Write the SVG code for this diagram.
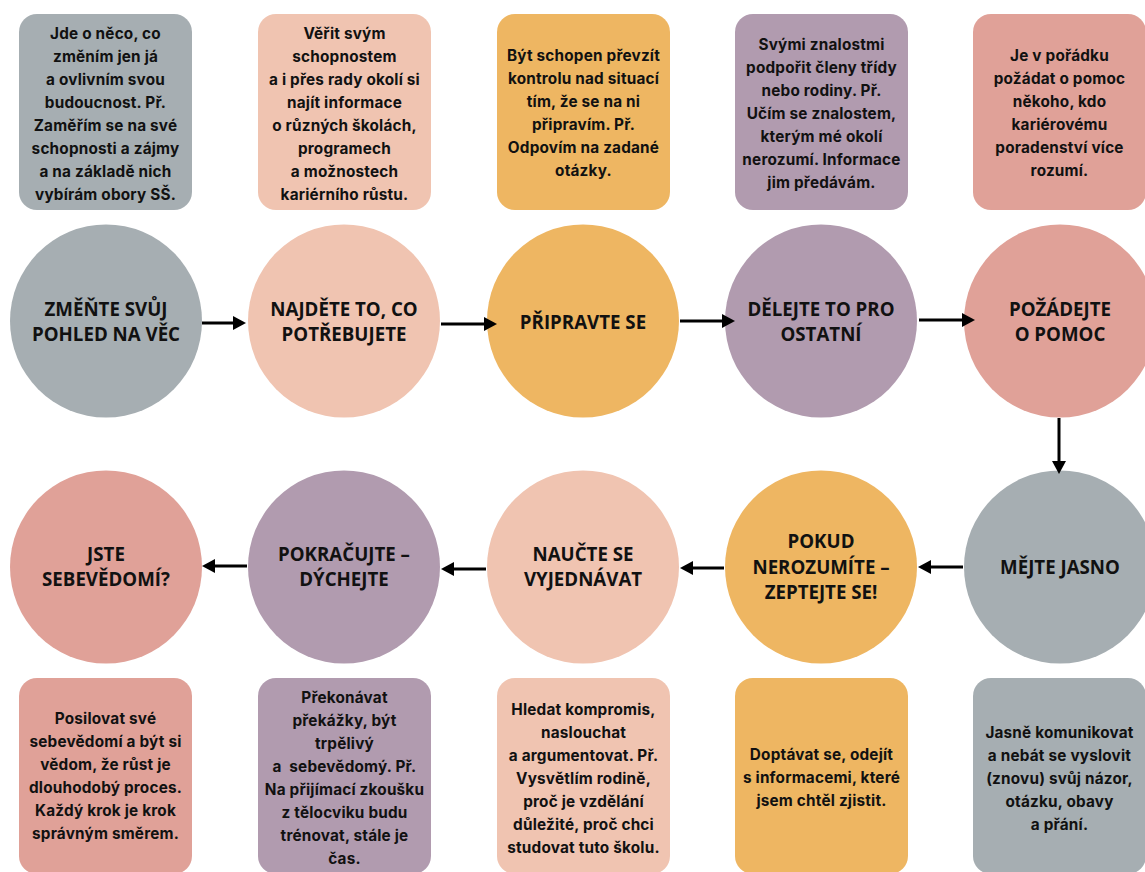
<svg xmlns="http://www.w3.org/2000/svg" width="1145" height="872" viewBox="0 0 1145 872">
<defs>
<style>
.gray{fill:#A6AEB2}.peach{fill:#F0C4B1}.yellow{fill:#EEB662}.mauve{fill:#B19BAF}.rose{fill:#E0A198}
.bt{font-family:Inter,"Noto Sans","DejaVu Sans",sans-serif;font-weight:700;font-size:15.3px;letter-spacing:0.2px;fill:#111;text-anchor:middle;white-space:pre}
.ct{font-family:"Open Sans","Noto Sans",sans-serif;font-weight:700;font-size:18.7px;fill:#111;text-anchor:middle}
.ln{stroke:#000;stroke-width:3;fill:none;marker-end:url(#ah)}
</style>
<marker id="ah" markerUnits="userSpaceOnUse" markerWidth="13" markerHeight="14" viewBox="0 0 13 14" refX="3" refY="7" orient="auto">
<path d="M0,0 L13,7 L0,14 Z" fill="#000"/>
</marker>
</defs>
<rect width="1145" height="872" fill="#fff"/>

<g id="box1"><rect class="gray" x="19" y="14" width="173" height="196" rx="18"/>
<text class="bt"><tspan x="105.5" y="38.5">Jde o něco, co</tspan><tspan x="105.5" y="61.5">změním jen já</tspan><tspan x="105.5" y="84.5">a ovlivním svou</tspan><tspan x="105.5" y="107.5">budoucnost. Př.</tspan><tspan x="105.5" y="130.5">Zaměřím se na své</tspan><tspan x="105.5" y="153.5">schopnosti a zájmy</tspan><tspan x="105.5" y="176.5">a na základě nich</tspan><tspan x="105.5" y="199.5">vybírám obory SŠ.</tspan></text></g>

<g id="box2"><rect class="peach" x="258" y="14" width="173" height="196" rx="18"/>
<text class="bt"><tspan x="344.5" y="38.5">Věřit svým</tspan><tspan x="344.5" y="61.5">schopnostem</tspan><tspan x="344.5" y="84.5">a i přes rady okolí si</tspan><tspan x="344.5" y="107.5">najít informace</tspan><tspan x="344.5" y="130.5">o různých školách,</tspan><tspan x="344.5" y="153.5">programech</tspan><tspan x="344.5" y="176.5">a možnostech</tspan><tspan x="344.5" y="199.5">kariérního růstu.</tspan></text></g>

<g id="box3"><rect class="yellow" x="497" y="14" width="173" height="196" rx="18"/>
<text class="bt"><tspan x="583.5" y="60.5">Být schopen převzít</tspan><tspan x="583.5" y="83.5">kontrolu nad situací</tspan><tspan x="583.5" y="106.5">tím, že se na ni</tspan><tspan x="583.5" y="129.5">připravím. Př.</tspan><tspan x="583.5" y="152.5">Odpovím na zadané</tspan><tspan x="583.5" y="175.5">otázky.</tspan></text></g>

<g id="box4"><rect class="mauve" x="735" y="14" width="173" height="196" rx="18"/>
<text class="bt"><tspan x="821.5" y="49.5">Svými znalostmi</tspan><tspan x="821.5" y="72.5">podpořit členy třídy</tspan><tspan x="821.5" y="95.5">nebo rodiny. Př.</tspan><tspan x="821.5" y="118.5">Učím se znalostem,</tspan><tspan x="821.5" y="141.5">kterým mé okolí</tspan><tspan x="821.5" y="164.5">nerozumí. Informace</tspan><tspan x="821.5" y="187.5">jim předávám.</tspan></text></g>

<g id="box5"><rect class="rose" x="973" y="14" width="173" height="196" rx="18"/>
<text class="bt"><tspan x="1059.5" y="60.5">Je v pořádku</tspan><tspan x="1059.5" y="83.5">požádat o pomoc</tspan><tspan x="1059.5" y="106.5">někoho, kdo</tspan><tspan x="1059.5" y="129.5">kariérovému</tspan><tspan x="1059.5" y="152.5">poradenství více</tspan><tspan x="1059.5" y="175.5">rozumí.</tspan></text></g>

<g id="c1"><ellipse class="gray" cx="106" cy="321" rx="96" ry="96.5"/>
<text class="ct"><tspan x="106" y="315.5">ZMĚŇTE SVŮJ</tspan><tspan x="106" y="340.5">POHLED NA VĚC</tspan></text></g>
<g id="c2"><ellipse class="peach" cx="344" cy="321" rx="96" ry="96.5"/>
<text class="ct"><tspan x="344" y="315.5">NAJDĚTE TO, CO</tspan><tspan x="344" y="341">POTŘEBUJETE</tspan></text></g>
<g id="c3"><ellipse class="yellow" cx="583" cy="321" rx="96" ry="96.5"/>
<text class="ct"><tspan x="583" y="328.5">PŘIPRAVTE SE</tspan></text></g>
<g id="c4"><ellipse class="mauve" cx="821" cy="321" rx="96" ry="96.5"/>
<text class="ct"><tspan x="821" y="315.5">DĚLEJTE TO PRO</tspan><tspan x="821" y="340.5">OSTATNÍ</tspan></text></g>
<g id="c5"><ellipse class="rose" cx="1060" cy="321" rx="96" ry="96.5"/>
<text class="ct"><tspan x="1060" y="315.5">POŽÁDEJTE</tspan><tspan x="1060" y="340.5">O POMOC</tspan></text></g>

<g id="c6"><ellipse class="rose" cx="106" cy="567" rx="96" ry="96.5"/>
<text class="ct"><tspan x="106" y="560.5">JSTE</tspan><tspan x="106" y="586">SEBEVĚDOMÍ?</tspan></text></g>
<g id="c7"><ellipse class="mauve" cx="344" cy="567" rx="96" ry="96.5"/>
<text class="ct"><tspan x="344" y="560.5">POKRAČUJTE –</tspan><tspan x="344" y="586">DÝCHEJTE</tspan></text></g>
<g id="c8"><ellipse class="peach" cx="583" cy="567" rx="96" ry="96.5"/>
<text class="ct"><tspan x="583" y="560.5">NAUČTE SE</tspan><tspan x="583" y="586">VYJEDNÁVAT</tspan></text></g>
<g id="c9"><ellipse class="yellow" cx="821" cy="567" rx="96" ry="96.5"/>
<text class="ct"><tspan x="821" y="547.5">POKUD</tspan><tspan x="821" y="573.5">NEROZUMÍTE –</tspan><tspan x="821" y="598.5">ZEPTEJTE SE!</tspan></text></g>
<g id="c10"><ellipse class="gray" cx="1060" cy="567" rx="96" ry="96.5"/>
<text class="ct"><tspan x="1060" y="573.5">MĚJTE JASNO</tspan></text></g>

<g id="box6"><rect class="rose" x="19" y="678" width="173" height="196" rx="18"/>
<text class="bt"><tspan x="105.5" y="723.5">Posilovat své</tspan><tspan x="105.5" y="746.5">sebevědomí a být si</tspan><tspan x="105.5" y="769.5">vědom, že růst je</tspan><tspan x="105.5" y="792.5">dlouhodobý proces.</tspan><tspan x="105.5" y="815.5">Každý krok je krok</tspan><tspan x="105.5" y="838.5">správným směrem.</tspan></text></g>

<g id="box7"><rect class="mauve" x="258" y="678" width="173" height="196" rx="18"/>
<text class="bt"><tspan x="344.5" y="702.5">Překonávat</tspan><tspan x="344.5" y="725.5">překážky, být</tspan><tspan x="344.5" y="748.5">trpělivý</tspan><tspan x="344.5" y="771.5">a  sebevědomý. Př.</tspan><tspan x="344.5" y="794.5">Na přijímací zkoušku</tspan><tspan x="344.5" y="817.5">z tělocviku budu</tspan><tspan x="344.5" y="840.5">trénovat, stále je</tspan><tspan x="344.5" y="863.5">čas.</tspan></text></g>

<g id="box8"><rect class="peach" x="497" y="678" width="173" height="196" rx="18"/>
<text class="bt"><tspan x="583.5" y="714.5">Hledat kompromis,</tspan><tspan x="583.5" y="737.5">naslouchat</tspan><tspan x="583.5" y="760.5">a argumentovat. Př.</tspan><tspan x="583.5" y="783.5">Vysvětlím rodině,</tspan><tspan x="583.5" y="806.5">proč je vzdělání</tspan><tspan x="583.5" y="829.5">důležité, proč chci</tspan><tspan x="583.5" y="852.5">studovat tuto školu.</tspan></text></g>

<g id="box9"><rect class="yellow" x="735" y="678" width="173" height="196" rx="18"/>
<text class="bt"><tspan x="821.5" y="759.5">Doptávat se, odejít</tspan><tspan x="821.5" y="782.5">s informacemi, které</tspan><tspan x="821.5" y="805.5">jsem chtěl zjistit.</tspan></text></g>

<g id="box10"><rect class="gray" x="973" y="678" width="173" height="196" rx="18"/>
<text class="bt"><tspan x="1059.5" y="737.5">Jasně komunikovat</tspan><tspan x="1059.5" y="760.5">a nebát se vyslovit</tspan><tspan x="1059.5" y="783.5">(znovu) svůj názor,</tspan><tspan x="1059.5" y="806.5">otázku, obavy</tspan><tspan x="1059.5" y="829.5">a přání.</tspan></text></g>

<g id="connectors">
<line class="ln" x1="202" y1="323" x2="236" y2="323"/>
<line class="ln" x1="441" y1="324" x2="487" y2="324"/>
<line class="ln" x1="680" y1="321" x2="725" y2="321"/>
<line class="ln" x1="919" y1="320" x2="965" y2="320"/>
<line class="ln" x1="1059" y1="418" x2="1059" y2="464"/>
<line class="ln" x1="963" y1="567" x2="928" y2="567"/>
<line class="ln" x1="724" y1="568" x2="690" y2="568"/>
<line class="ln" x1="486" y1="569" x2="451" y2="569"/>
<line class="ln" x1="247" y1="566" x2="212" y2="566"/>
</g>
</svg>
